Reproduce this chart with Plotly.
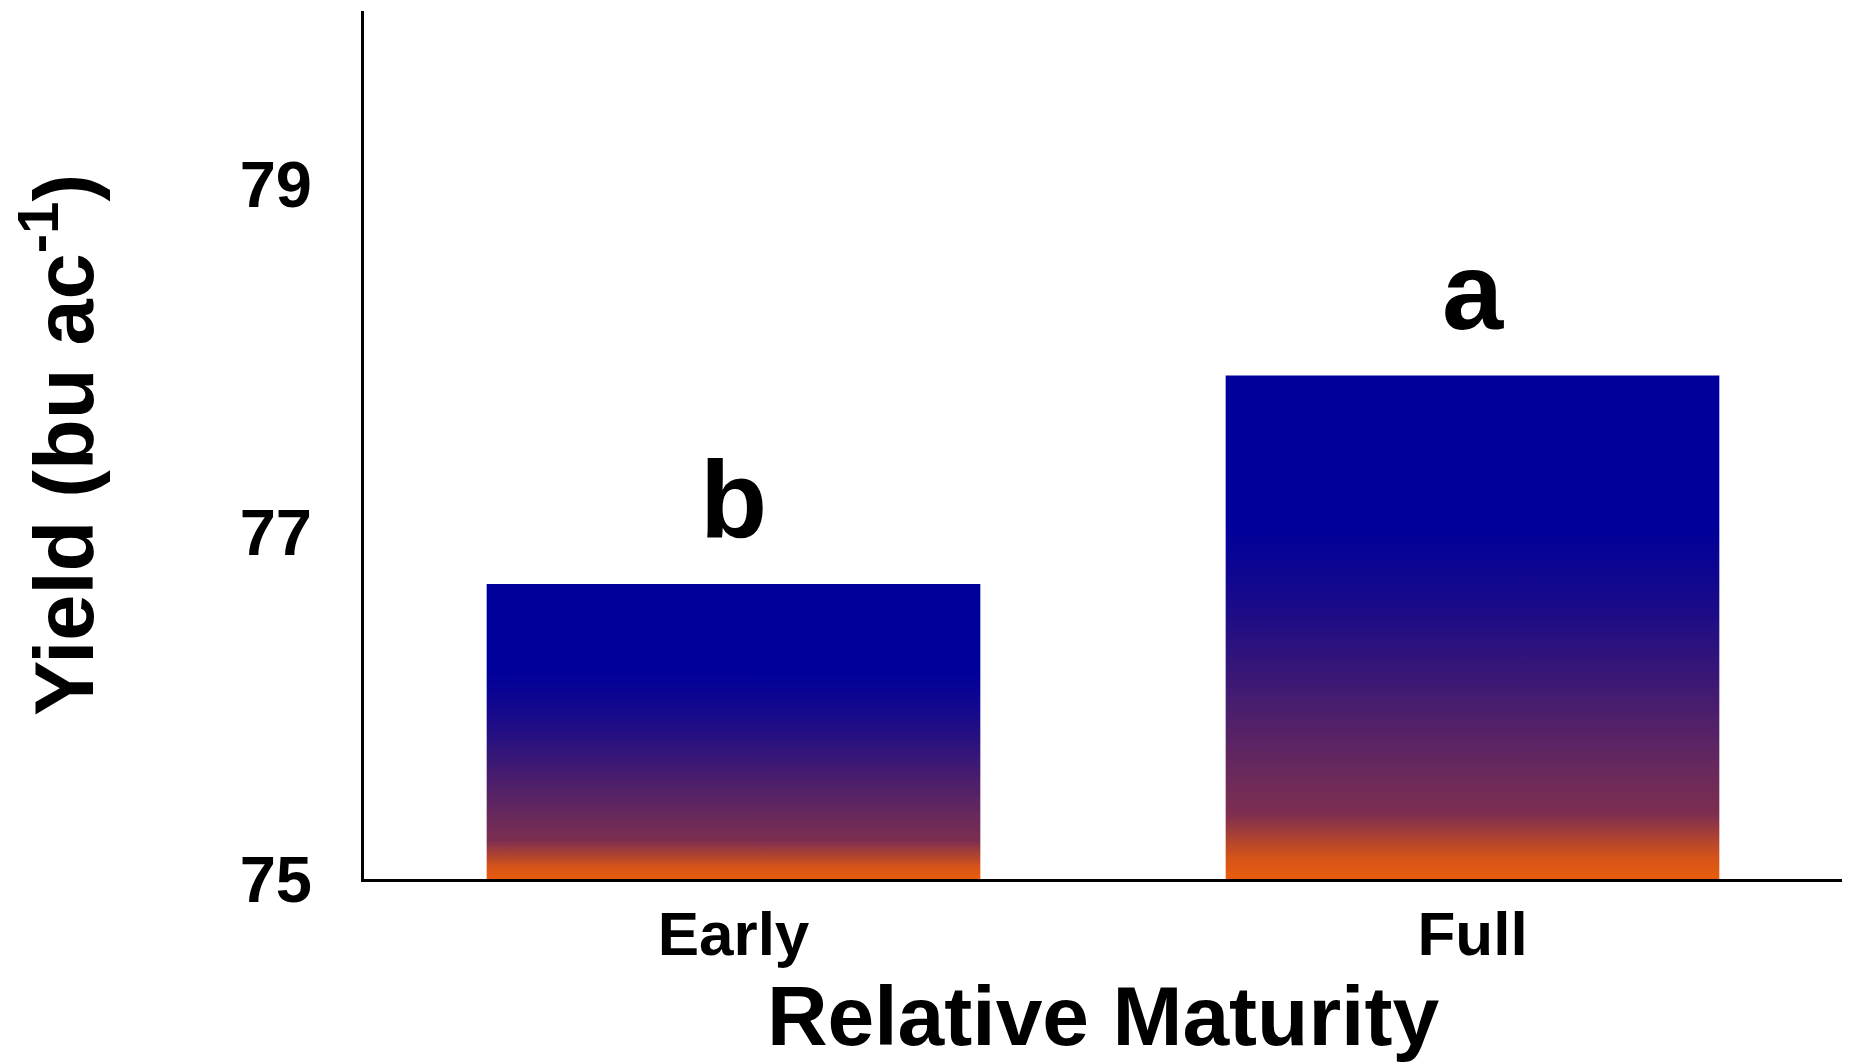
import plotly.graph_objects as go

# ---- data ----
categories = ["Early", "Full"]
yield_means = [76.70, 77.90]
letters = ["b", "a"]
y_tick_vals = [75, 77, 79]
y_tick_text = ["75", "77", "79"]

# ---- style ----
FONT = "Liberation Sans, Arial, sans-serif"
BASE = 75
BAR_WIDTH = 0.668
gradient = [
    [0.00, "rgb(232,93,14)"],
    [0.04, "rgb(214,84,24)"],
    [0.13, "rgb(125,46,80)"],
    [0.20, "rgb(108,42,90)"],
    [0.40, "rgb(58,24,118)"],
    [0.55, "rgb(24,10,138)"],
    [0.70, "rgb(0,0,155)"],
    [1.00, "rgb(0,0,155)"],
]

fig = go.Figure()

for i, (cat, val) in enumerate(zip(categories, yield_means)):
    x0, x1 = i - BAR_WIDTH / 2, i + BAR_WIDTH / 2
    fig.add_trace(go.Scatter(
        x=[x0, x1, x1, x0, x0],
        y=[BASE, BASE, val, val, BASE],
        mode="lines",
        line=dict(width=0),
        fill="toself",
        fillgradient=dict(type="vertical", start=BASE, stop=val, colorscale=gradient),
        name=cat,
        hoverinfo="skip",
        showlegend=False,
    ))

for i, (val, lab) in enumerate(zip(yield_means, letters)):
    fig.add_annotation(
        x=i, y=val, text=f"<b>{lab}</b>", showarrow=False,
        yanchor="bottom", yshift=22,
        font=dict(family=FONT, size=110, color="black"),
    )

fig.update_layout(
    width=1851, height=1063,
    margin=dict(l=364, r=9, t=11, b=184),
    plot_bgcolor="white", paper_bgcolor="white",
    font=dict(family=FONT, color="black"),
    showlegend=False,
)
fig.update_xaxes(
    range=[-0.5, 1.5], tickmode="array", tickvals=list(range(len(categories))),
    ticktext=[f"<b>{c}</b>" for c in categories],
    tickfont=dict(family=FONT, size=62, color="black"),
    showgrid=False, zeroline=False, showline=True, linecolor="black", linewidth=3,
    ticks="", ticklabelstandoff=-1,
    title=dict(text="<b>Relative Maturity</b>", font=dict(family=FONT, size=84, color="black"), standoff=19),
    automargin=False,
)
fig.update_yaxes(
    range=[75, 80], tickmode="array", tickvals=y_tick_vals, ticktext=[f"<b>{t}</b>" for t in y_tick_text],
    tickfont=dict(family=FONT, size=65, color="black"),
    showgrid=False, zeroline=False, showline=True, linecolor="black", linewidth=3,
    ticks="", ticklabelstandoff=36,
    title=dict(text="<b>Yield (bu ac<sup>-1</sup>)</b>", font=dict(family=FONT, size=83, color="black"), standoff=119),
    automargin=False,
)

fig.write_html("out.html")
